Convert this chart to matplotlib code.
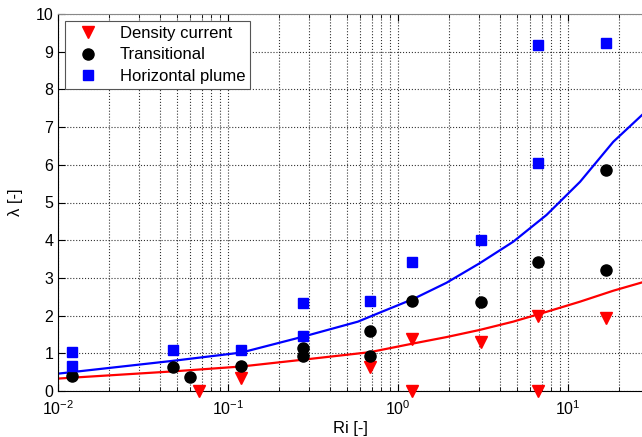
import numpy as np
import matplotlib
matplotlib.use("Agg")
import matplotlib.pyplot as plt
from matplotlib.ticker import LogLocator, NullFormatter, MultipleLocator

plt.rcParams['font.family'] = ['Liberation Sans', 'DejaVu Sans']
plt.rcParams['font.size'] = 10

# measured points
dc_ri = [0.068, 0.119, 0.684, 1.21, 1.21, 3.07, 6.66, 6.66, 16.7]
dc_lam = [0.0, 0.34, 0.64, 1.39, 0.0, 1.30, 1.99, 0.0, 1.94]

tr_ri = [0.0121, 0.0474, 0.0597, 0.119, 0.276, 0.276, 0.684, 0.684, 1.21, 3.07, 6.66, 16.7, 16.7]
tr_lam = [0.40, 0.64, 0.37, 0.66, 1.14, 0.93, 1.59, 0.93, 2.38, 2.36, 3.42, 5.86, 3.21]

hp_ri = [0.0121, 0.0121, 0.0474, 0.119, 0.276, 0.276, 0.684, 1.21, 3.07, 6.66, 6.66, 16.7]
hp_lam = [1.03, 0.66, 1.09, 1.08, 2.33, 1.46, 2.38, 3.42, 4.00, 9.18, 6.05, 9.23]

# fitted curves
fit_hp_ri = [0.01, 0.0474, 0.12, 0.276, 0.582, 0.783, 1.23, 1.93, 3.03,
             4.77, 7.49, 11.8, 18.5, 27.3]
fit_hp_lam = [0.46, 0.80, 1.02, 1.44, 1.84, 2.08, 2.44, 2.87, 3.39,
              3.96, 4.67, 5.55, 6.61, 7.32]

fit_dc_ri = [0.01, 0.0474, 0.12, 0.276, 0.684, 1.23, 1.93, 3.03, 4.77,
             7.49, 11.8, 18.5, 27.3]
fit_dc_lam = [0.33, 0.52, 0.65, 0.83, 1.03, 1.26, 1.43, 1.62, 1.84,
              2.10, 2.37, 2.66, 2.88]

fig = plt.figure(figsize=(6.42, 4.37), dpi=100)
ax = fig.add_axes([58 / 642, 1 - 391 / 437, 1 - 58 / 642, (391 - 14) / 437])

ax.plot(fit_hp_ri, fit_hp_lam, color='#0000ff', lw=1.6, zorder=2)
ax.plot(fit_dc_ri, fit_dc_lam, color='#ff0000', lw=1.6, zorder=2)

ax.plot(dc_ri, dc_lam, 'v', color='#ff0000', ms=9, ls='none',
        label='Density current', clip_on=False, zorder=3)
ax.plot(tr_ri, tr_lam, 'o', color='black', ms=8, ls='none',
        label='Transitional', clip_on=False, zorder=3)
ax.plot(hp_ri, hp_lam, 's', color='#0000ff', ms=7.5, ls='none',
        label='Horizontal plume', clip_on=False, zorder=3)

ax.set_xscale('log')
ax.set_xlim(0.01, 27.3)
ax.set_ylim(0, 10)
ax.yaxis.set_major_locator(MultipleLocator(1))
ax.xaxis.set_minor_locator(LogLocator(base=10, subs=np.arange(2, 10)))
ax.xaxis.set_minor_formatter(NullFormatter())

ax.grid(True, which='major', axis='both', color='black', ls=':', lw=0.8, alpha=0.8)
ax.grid(True, which='minor', axis='x', color='black', ls=':', lw=0.8, alpha=0.8)
ax.set_axisbelow(True)

ax.tick_params(which='both', direction='in', top=True, right=False, labelsize=11.5)
ax.tick_params(which='major', length=5)
ax.tick_params(axis='x', which='major', pad=6)
ax.tick_params(which='minor', length=3)
ax.spines['right'].set_visible(False)
ax.spines['top'].set_color('#888888')

ax.set_xlabel('Ri [-]', fontsize=12, labelpad=2)
ax.set_ylabel('λ [-]', fontsize=12, labelpad=9)

leg = ax.legend(loc='upper left', fontsize=12, frameon=True, fancybox=False,
                edgecolor='#555555', framealpha=1, handletextpad=0.8,
                borderaxespad=0.4, labelspacing=0.4, borderpad=0.3,
                handlelength=2.2)
leg.get_frame().set_linewidth(0.8)

fig.savefig('out.png', dpi=100)
